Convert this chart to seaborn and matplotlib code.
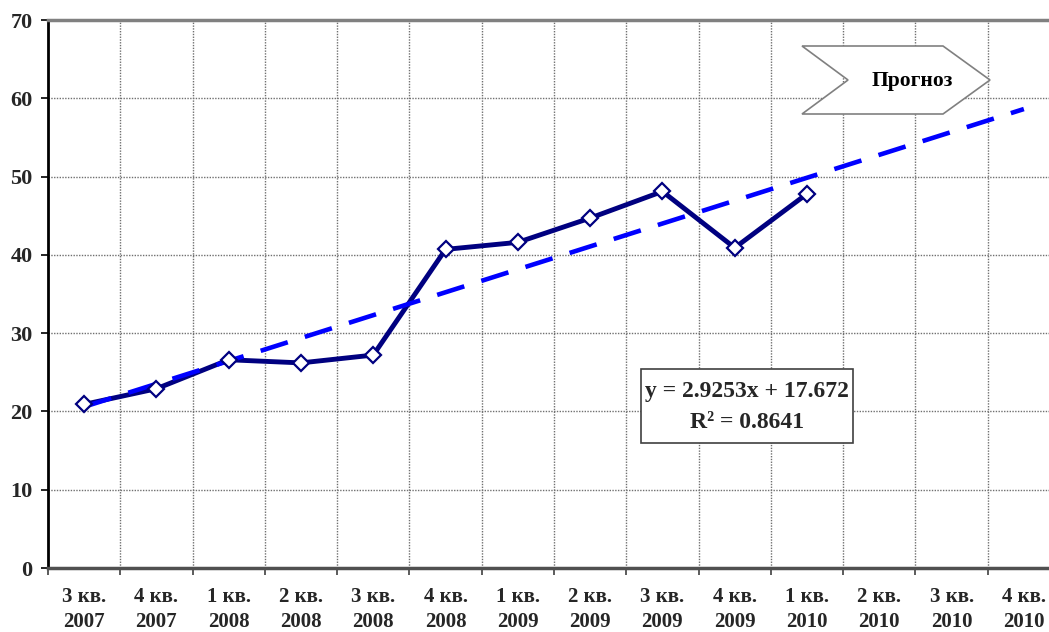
import numpy as np
import pandas as pd
import matplotlib
matplotlib.use("Agg")
import matplotlib.pyplot as plt
import seaborn as sns
from matplotlib.patches import Polygon, Rectangle

# ---- data ----
quarters = ["3 кв.\n2007", "4 кв.\n2007", "1 кв.\n2008", "2 кв.\n2008", "3 кв.\n2008",
            "4 кв.\n2008", "1 кв.\n2009", "2 кв.\n2009", "3 кв.\n2009", "4 кв.\n2009",
            "1 кв.\n2010", "2 кв.\n2010", "3 кв.\n2010", "4 кв.\n2010"]
values = [20.9, 22.9, 26.6, 26.2, 27.2, 40.7, 41.6, 44.7, 48.1, 40.9, 47.8]
trend_slope = 2.9253
trend_intercept = 17.672
r_squared = 0.8641
y_ticks = [0, 10, 20, 30, 40, 50, 60, 70]
forecast_label = "Прогноз"

sns.set_theme(style="white")
plt.rcParams['font.family'] = ['Liberation Serif', 'DejaVu Serif']
plt.rcParams['font.weight'] = 'bold'

W, H = 1049, 632
fig = plt.figure(figsize=(W / 100, H / 100), dpi=100)
# plot area in pixels: left 48, right 1060 (beyond image), top 20, bottom 568
L, R, T, B = 48, 1060, 20, 568
ax = fig.add_axes([L / W, (H - B) / H, (R - L) / W, (B - T) / H])

def fx(px):
    return (px - L) / (R - L)

def fy(py):
    return (B - py) / (B - T)

df = pd.DataFrame({"x": np.arange(len(values)), "y": values})

# trend line (Excel-style, x = 1..N)
tx = np.array([0, len(quarters) - 1])
ty = trend_slope * (tx + 1) + trend_intercept
ax.plot(tx, ty, color="#0000FF", lw=3.3, dashes=(6.2, 3.9), zorder=4,
        solid_capstyle="butt", dash_capstyle="butt")

sns.lineplot(data=df, x="x", y="y", ax=ax, color="#000080", lw=3.5, zorder=3)
# markers on top
ax.plot(df["x"], df["y"], ls="none", marker="D", markersize=8.5,
        markerfacecolor="white", markeredgecolor="#000080", markeredgewidth=1.6, zorder=5)

ax.set_xlim(-0.5, len(quarters) - 0.5)
ax.set_ylim(0, 70)
ax.set_xlabel("")
ax.set_ylabel("")

ax.set_xticks(np.arange(len(quarters)))
ax.set_xticklabels(quarters, fontsize=15, fontweight="bold", linespacing=1.3)
ax.set_xticks(np.arange(len(quarters) + 1) - 0.5, minor=True)
ax.tick_params(axis="x", which="major", length=0, pad=14)
ax.tick_params(axis="x", which="minor", length=5, width=1.2, color="#404040", direction="out", bottom=True)

ax.set_yticks(y_ticks)
ax.set_yticklabels([str(v) for v in y_ticks], fontsize=16, fontweight="bold")
ax.tick_params(axis="y", which="major", length=5, width=1.2, color="black", direction="out", pad=6, left=True)

# grid
for v in y_ticks[1:-1]:
    ax.axhline(v, color="#707070", lw=1, ls=(0, (1, 1)), zorder=1)
for v in np.arange(len(quarters) + 1)[1:-1] - 0.5:
    ax.axvline(v, color="#707070", lw=1, ls=(0, (1, 1)), zorder=1)

for s in ax.spines.values():
    s.set_visible(True)
ax.spines["left"].set_color("black")
ax.spines["left"].set_linewidth(2)
ax.spines["bottom"].set_color("#505050")
ax.spines["bottom"].set_linewidth(2.5)
ax.spines["top"].set_color("#808080")
ax.spines["top"].set_linewidth(2.5)
ax.spines["right"].set_visible(False)

# forecast arrow
pts = [(802, 46), (943, 46), (990, 80), (943, 114), (802, 114), (848, 80)]
poly = Polygon([(fx(a), fy(b)) for a, b in pts], closed=True, transform=ax.transAxes,
               facecolor="white", edgecolor="#808080", lw=1.2, zorder=6, clip_on=False)
ax.add_patch(poly)
ax.text(fx(912), fy(81), forecast_label, transform=ax.transAxes, ha="center", va="center",
        fontsize=15.5, fontweight="bold", color="black", zorder=7)

# equation box
rect = Rectangle((fx(641), fy(443)), fx(853) - fx(641), fy(369) - fy(443), transform=ax.transAxes,
                 facecolor="white", edgecolor="#404040", lw=1.2, zorder=6)
ax.add_patch(rect)
ax.text(fx(747), fy(392), f"y = {trend_slope}x + {trend_intercept}", transform=ax.transAxes,
        ha="center", va="center", fontsize=17, fontweight="bold", zorder=7)
ax.text(fx(747), fy(423), f"R² = {r_squared}", transform=ax.transAxes,
        ha="center", va="center", fontsize=17, fontweight="bold", zorder=7)

if ax.get_legend():
    ax.get_legend().remove()

fig.savefig("out.png", dpi=100, facecolor="white")
